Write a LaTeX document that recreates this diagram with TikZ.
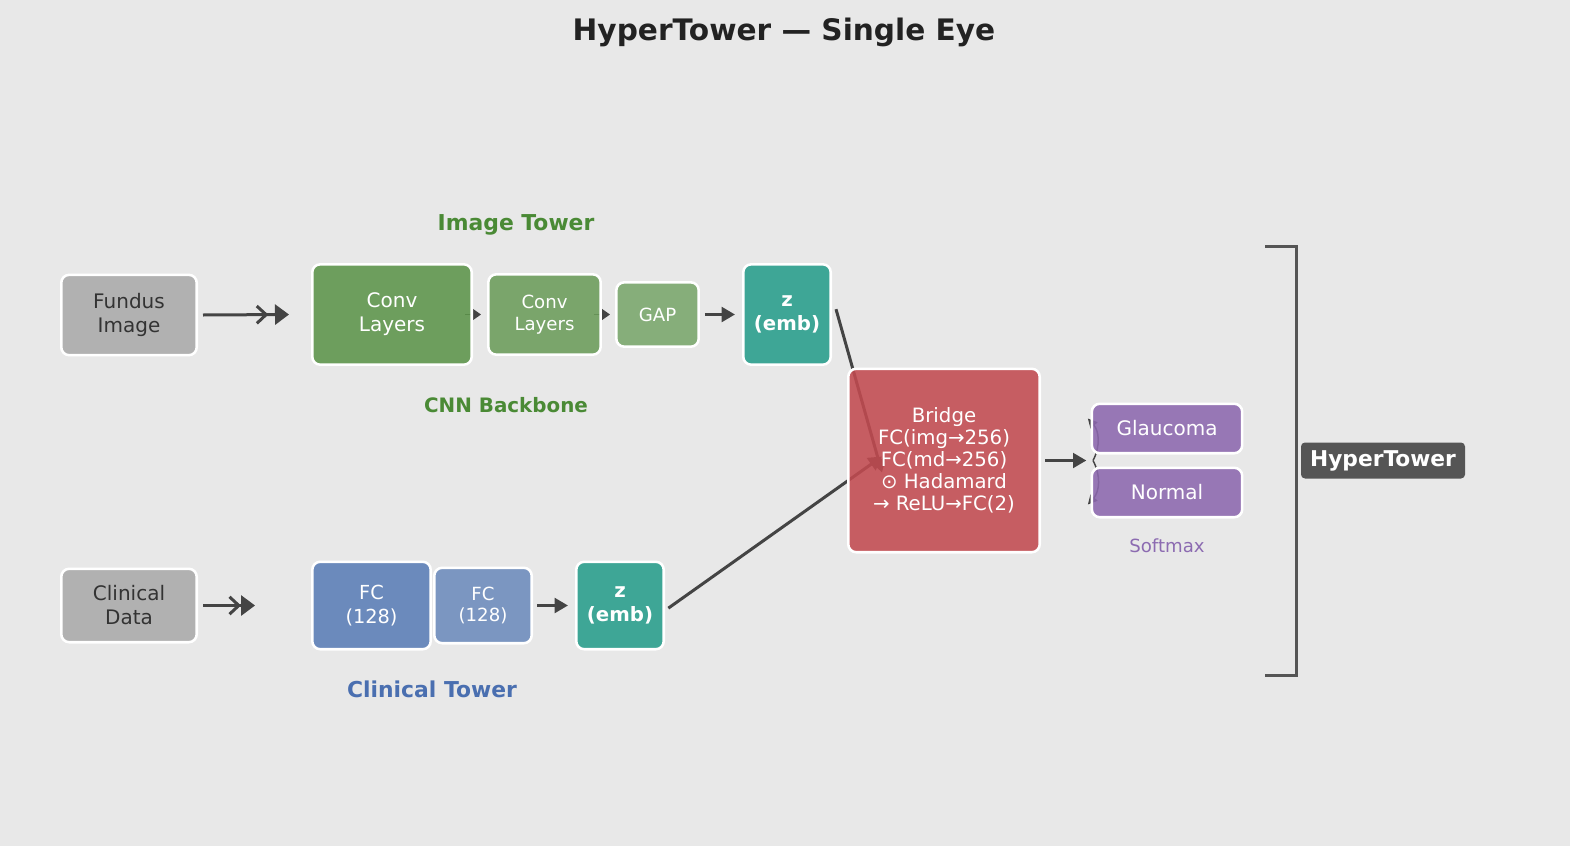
\documentclass[tikz,border=0pt]{standalone}
\usepackage{fontspec}
\setmainfont{DejaVu Sans}
\usetikzlibrary{arrows.meta}

\pgfdeclarelayer{back}
\pgfdeclarelayer{links}
\pgfsetlayers{back,links,main}

\definecolor{bgcol}{RGB}{232,232,232}
\definecolor{linkcol}{RGB}{68,68,68}
\definecolor{graycol}{RGB}{170,170,170}
\definecolor{convA}{RGB}{92,148,74}
\definecolor{convB}{RGB}{107,156,90}
\definecolor{gapcol}{RGB}{121,166,107}
\definecolor{embcol}{RGB}{39,157,139}
\definecolor{bridgecol}{RGB}{194,74,80}
\definecolor{outcol}{RGB}{140,104,174}
\definecolor{fcA}{RGB}{90,125,182}
\definecolor{fcB}{RGB}{109,139,188}
\definecolor{greentxt}{RGB}{74,138,53}
\definecolor{bluetxt}{RGB}{74,111,176}
\definecolor{purpletxt}{RGB}{140,107,177}
\definecolor{darkcol}{RGB}{85,85,85}

\tikzset{
  box/.style={draw=white, line width=1.9pt, rounded corners=6pt, fill opacity=0.88,
    text opacity=1, align=center, inner sep=0pt, text=white,
    font=\fontsize{15}{18}\selectfont},
  smallbox/.style={box, font=\fontsize{13.6}{16.3}\selectfont},
  graybox/.style={box, fill=graycol, text={rgb,255:red,51;green,51;blue,51}},
  embbox/.style={box, fill=embcol, font=\fontsize{14.8}{17.8}\selectfont\bfseries},
  outbox/.style={box, fill=outcol, minimum width=112.8pt, minimum height=37.1pt},
  grouplabel/.style={font=\fontsize{16.4}{19.7}\selectfont\bfseries},
  link/.style={draw=linkcol, line width=2.25pt, -{Triangle[length=10pt,width=11pt]}},
  dbllink/.style={draw=linkcol, line width=2.25pt,
    -{Straight Barb[length=7pt,width=13pt,sep=#1] Triangle[length=10.5pt,width=15pt]}},
  tinylink/.style={draw=linkcol, line width=1.4pt, -{Triangle[length=6pt,width=8pt]}},
  sublink/.style={draw=linkcol, line width=1.1pt, -{Triangle[length=7pt,width=7pt]}},
  bracket/.style={draw=darkcol, line width=2.25pt},
}

\begin{document}
\begin{tikzpicture}[x=0.75pt,y=0.75pt,yscale=-1,xscale=1]

\begin{pgfonlayer}{back}
\fill[bgcol] (0,0) rectangle (1570,846);
\end{pgfonlayer}

% Title
\node[font=\fontsize{22.2}{26.6}\selectfont\bfseries, text={rgb,255:red,34;green,34;blue,34}] (title) at (784,32) {HyperTower — Single Eye};

% Image tower
\node[graybox, minimum width=101.6pt, minimum height=60.3pt] (fundus) at (129,315) {Fundus\\Image};
\node[box, fill=convA, minimum width=119.6pt, minimum height=75.3pt] (conv1) at (392,314.5) {Conv\\Layers};
\node[smallbox, fill=convB, minimum width=84.3pt, minimum height=60.3pt] (conv2) at (544.5,314.5) {Conv\\Layers};
\node[smallbox, fill=gapcol, minimum width=61.8pt, minimum height=48.3pt] (gap) at (657.5,314.5) {GAP};
\node[embbox, minimum width=65.6pt, minimum height=75.3pt] (zimg) at (787,314.5) {z\\(emb)};
\node[grouplabel, text=greentxt] (imglabel) at (516,225) {Image Tower};
\node[font=\fontsize{14.9}{17.9}\selectfont\bfseries, text=greentxt] (cnnlabel) at (506,405) {CNN Backbone};

% Clinical tower
\node[graybox, minimum width=101.6pt, minimum height=55.1pt] (clinical) at (129,605.5) {Clinical\\Data};
\node[box, fill=fcA, font=\fontsize{14.5}{17.4}\selectfont, minimum width=88.8pt, minimum height=65.6pt] (fc1) at (371.5,605.5) {FC\\(128)};
\node[smallbox, fill=fcB, minimum width=73.1pt, minimum height=56.6pt] (fc2) at (483,605.5) {FC\\(128)};
\node[embbox, minimum width=65.6pt, minimum height=65.6pt] (zcl) at (620,605.5) {z\\(emb)};
\node[grouplabel, text=bluetxt] (cllabel) at (432,689) {Clinical Tower};

% Bridge and output
\node[box, fill=bridgecol, font=\fontsize{14.8}{16.5}\selectfont, minimum width=143.6pt, minimum height=137.6pt] (bridge) at (944,460.5)
  {Bridge\\FC(img→256)\\FC(md→256)\\⊙ Hadamard\\→ ReLU→FC(2)};
\node[outbox] (glau) at (1167,428.5) {Glaucoma};
\node[outbox] (normal) at (1167,492.5) {Normal};
\node[font=\fontsize{13.6}{16.3}\selectfont, text=purpletxt] (softmax) at (1167,546) {Softmax};
\coordinate (split) at (1093,460.5);

% HyperTower bracket
\coordinate (brtop) at (1265,246);
\coordinate (brbot) at (1265,675);
\node[fill=darkcol, rounded corners=3pt, text=white, inner sep=0pt, minimum width=123pt, minimum height=27pt,
  font=\fontsize{16.3}{19.6}\selectfont\bfseries] (hyper) at (1383,460.5) {HyperTower};

\begin{pgfonlayer}{links}
\draw[dbllink=5pt] ([xshift=3.75pt]fundus.east) -- ([xshift=-16.5pt]conv1.west);
\draw[tinylink] ([xshift=-6pt]conv1.east) -- ([xshift=-4.5pt]conv2.west);
\draw[tinylink] ([xshift=-6pt]conv2.east) -- ([xshift=-3.75pt]gap.west);
\draw[link] ([xshift=3.75pt]gap.east) -- ([xshift=-5.25pt]zimg.west);
\draw[link] ([xshift=3pt,yshift=-4pt]zimg.east) -- ([xshift=-46.5pt,yshift=9pt]bridge.center);

\draw[dbllink=0pt] ([xshift=3.75pt]clinical.east) -- ([xshift=-42pt]fc1.west);
\draw[link] ([xshift=3pt]fc2.east) -- ([xshift=-5.25pt]zcl.west);
\draw[link] ([xshift=2.5pt,yshift=2pt]zcl.east) -- ([xshift=-46.5pt,yshift=-3pt]bridge.center);

\draw[link] ([xshift=3pt]bridge.east) -- ([xshift=-5pt]split);
\draw[sublink] (split) to[bend left=35] ([xshift=-2pt,yshift=-7.5pt]glau.west);
\draw[sublink] (split) to[bend right=35] ([xshift=-2pt,yshift=9pt]normal.west);
\end{pgfonlayer}

\draw[bracket] (brtop) -- ++(31,0) |- (brbot);

\end{tikzpicture}
\end{document}
